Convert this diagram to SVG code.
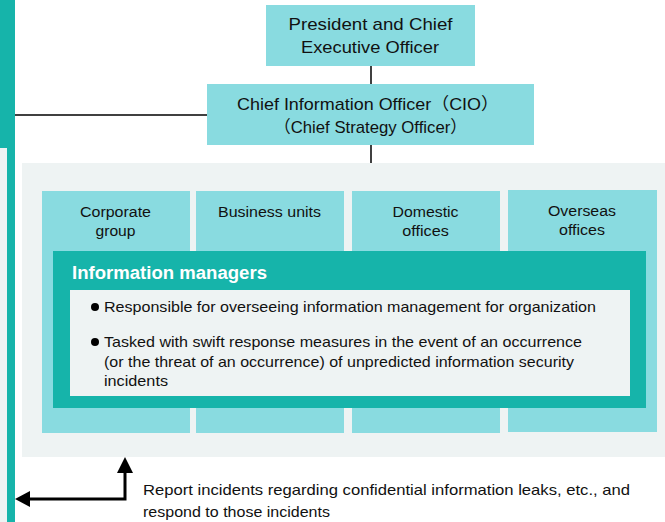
<svg xmlns="http://www.w3.org/2000/svg" width="665" height="522" viewBox="0 0 665 522">
<style>
.cy{fill:#89dbe0}
.t{font-family:"Liberation Sans",Arial,"Noto Sans CJK JP",sans-serif;fill:#111}
.c{text-anchor:middle}
.ln{stroke:#000;stroke-width:1.5;fill:none}
</style>
<rect width="665" height="522" fill="#fff"/>
<g id="sidebar">
<rect x="0" y="0" width="15" height="148" fill="#16b4aa"/>
<rect x="0" y="148" width="7" height="374" fill="#eef3f3"/>
<rect x="7" y="148" width="8" height="374" fill="#16b4aa"/>
</g>
<rect id="panel" x="22" y="163" width="643" height="294" fill="#eef3f3"/>
<g id="connectors">
<line class="ln" x1="371" y1="66" x2="371" y2="84"/>
<line class="ln" x1="371" y1="145" x2="371" y2="163"/>
<line class="ln" x1="15" y1="115" x2="207" y2="115"/>
<path d="M125,473 L125,499 L30,499" stroke="#000" stroke-width="3" fill="none"/>
<path d="M125,457 L133,473 L117,473 z" fill="#000"/>
<path d="M15,499 L30,491 L30,507 z" fill="#000"/>
</g>
<g id="president">
<rect class="cy" x="266" y="5" width="209" height="61"/>
<text class="t c" x="370.5" y="30" font-size="17" textLength="164" lengthAdjust="spacingAndGlyphs">President and Chief</text>
<text class="t c" x="370" y="53" font-size="17" textLength="138" lengthAdjust="spacingAndGlyphs">Executive Officer</text>
</g>
<g id="cio">
<rect class="cy" x="207" y="84" width="327" height="61"/>
<text class="t c" x="368" y="110" font-size="17" textLength="262" lengthAdjust="spacingAndGlyphs">Chief Information Officer（CIO）</text>
<text class="t c" x="370.5" y="133" font-size="17" textLength="193" lengthAdjust="spacingAndGlyphs">（Chief Strategy Officer）</text>
</g>
<g id="corporate">
<rect class="cy" x="42" y="191" width="148" height="242"/>
<text class="t c" x="115.5" y="217" font-size="15.5" textLength="71" lengthAdjust="spacingAndGlyphs">Corporate</text>
<text class="t c" x="115.5" y="236" font-size="15.5" textLength="40" lengthAdjust="spacingAndGlyphs">group</text>
</g>
<g id="business">
<rect class="cy" x="196" y="191" width="148" height="242"/>
<text class="t c" x="269.5" y="217" font-size="15.5" textLength="103" lengthAdjust="spacingAndGlyphs">Business units</text>
</g>
<g id="domestic">
<rect class="cy" x="352" y="191" width="148" height="242"/>
<text class="t c" x="425.5" y="217" font-size="15.5" textLength="66" lengthAdjust="spacingAndGlyphs">Domestic</text>
<text class="t c" x="425.5" y="236" font-size="15.5" textLength="46.5" lengthAdjust="spacingAndGlyphs">offices</text>
</g>
<g id="overseas">
<rect class="cy" x="508" y="190" width="149" height="242"/>
<text class="t c" x="582" y="216" font-size="15.5" textLength="68" lengthAdjust="spacingAndGlyphs">Overseas</text>
<text class="t c" x="582" y="235" font-size="15.5" textLength="46" lengthAdjust="spacingAndGlyphs">offices</text>
</g>
<g id="info-managers">
<rect x="53" y="251" width="593" height="157" fill="#16b4aa"/>
<text x="72" y="279" font-size="17.5" font-weight="bold" fill="#fff" font-family="Liberation Sans,Arial,sans-serif" textLength="195" lengthAdjust="spacingAndGlyphs">Information managers</text>
<rect x="70" y="290" width="560" height="106" fill="#eef3f3"/>
<circle cx="95" cy="307" r="4" fill="#000"/>
<text class="t" x="104" y="312" font-size="15" textLength="492" lengthAdjust="spacingAndGlyphs">Responsible for overseeing information management for organization</text>
<circle cx="95" cy="342" r="4" fill="#000"/>
<text class="t" x="104" y="347" font-size="15" textLength="478" lengthAdjust="spacingAndGlyphs">Tasked with swift response measures in the event of an occurrence</text>
<text class="t" x="104" y="367" font-size="15" textLength="470" lengthAdjust="spacingAndGlyphs">(or the threat of an occurrence) of unpredicted information security</text>
<text class="t" x="104" y="386" font-size="15" textLength="64" lengthAdjust="spacingAndGlyphs">incidents</text>
</g>
<g id="note">
<text class="t" x="143" y="495" font-size="15" textLength="487" lengthAdjust="spacingAndGlyphs">Report incidents regarding confidential information leaks, etc., and</text>
<text class="t" x="143" y="517" font-size="15" textLength="187" lengthAdjust="spacingAndGlyphs">respond to those incidents</text>
</g>
</svg>
